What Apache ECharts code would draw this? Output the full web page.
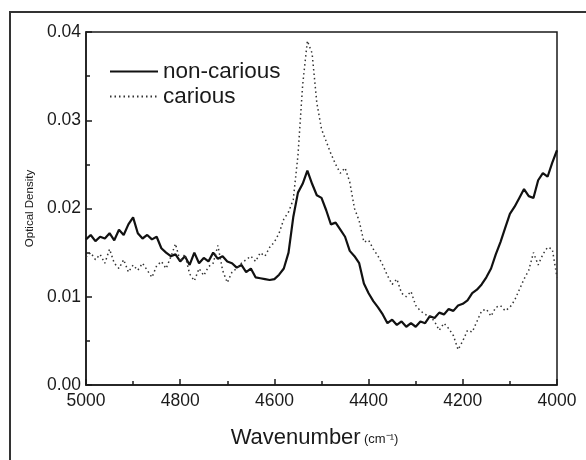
<!DOCTYPE html>
<html>
<head>
<meta charset="utf-8">
<script src="https://cdn.jsdelivr.net/npm/echarts@6/dist/echarts.min.js"></script>
<style>
  html, body { margin: 0; padding: 0; background: #fff; }
  #main { width: 586px; height: 460px; }
</style>
</head>
<body>
<div id="main"></div>
<script>
// wavenumber (cm-1), every 10 cm-1
var wavenumber = [
  5000, 4990, 4980, 4970, 4960, 4950, 4940, 4930, 4920, 4910,
  4900, 4890, 4880, 4870, 4860, 4850, 4840, 4830, 4820, 4810,
  4800, 4790, 4780, 4770, 4760, 4750, 4740, 4730, 4720, 4710,
  4700, 4690, 4680, 4670, 4660, 4650, 4640, 4630, 4620, 4610,
  4600, 4590, 4580, 4570, 4560, 4550, 4540, 4530, 4520, 4510,
  4500, 4490, 4480, 4470, 4460, 4450, 4440, 4430, 4420, 4410,
  4400, 4390, 4380, 4370, 4360, 4350, 4340, 4330, 4320, 4310,
  4300, 4290, 4280, 4270, 4260, 4250, 4240, 4230, 4220, 4210,
  4200, 4190, 4180, 4170, 4160, 4150, 4140, 4130, 4120, 4110,
  4100, 4090, 4080, 4070, 4060, 4050, 4040, 4030, 4020, 4010,
  4000
];

var nonCarious = [
  0.0165, 0.0170, 0.0163, 0.0168, 0.0166, 0.0172, 0.0164, 0.0176, 0.0170, 0.0182,
  0.0190, 0.0172, 0.0166, 0.0170, 0.0165, 0.0168, 0.0155, 0.0150, 0.0146, 0.0148,
  0.0140, 0.0146, 0.0136, 0.0150, 0.0138, 0.0144, 0.0140, 0.0150, 0.0143, 0.0146,
  0.0140, 0.0138, 0.0133, 0.0136, 0.0128, 0.0132, 0.0122, 0.0121, 0.0120, 0.0119,
  0.0120, 0.0125, 0.0132, 0.0150, 0.0190, 0.0218, 0.0228, 0.0243, 0.0228, 0.0215,
  0.0212, 0.0198, 0.0182, 0.0184, 0.0176, 0.0168, 0.0152, 0.0146, 0.0138, 0.0115,
  0.0104, 0.0095, 0.0088, 0.0080, 0.0070, 0.0074, 0.0068, 0.0072, 0.0066, 0.0070,
  0.0066, 0.0072, 0.0070, 0.0078, 0.0076, 0.0082, 0.0080, 0.0086, 0.0084, 0.0090,
  0.0092, 0.0096, 0.0104, 0.0108, 0.0114, 0.0122, 0.0132, 0.0148, 0.0162, 0.0178,
  0.0194, 0.0202, 0.0212, 0.0222, 0.0214, 0.0212, 0.0232, 0.0240, 0.0236, 0.0252,
  0.0266
];

var carious = [
  0.0145, 0.0150, 0.0142, 0.0148, 0.0138, 0.0154, 0.0138, 0.0132, 0.0142, 0.0128,
  0.0136, 0.0130, 0.0138, 0.0130, 0.0122, 0.0135, 0.0140, 0.0132, 0.0145, 0.0160,
  0.0140, 0.0148, 0.0126, 0.0118, 0.0132, 0.0124, 0.0134, 0.0138, 0.0158, 0.0130,
  0.0116, 0.0128, 0.0132, 0.0138, 0.0142, 0.0146, 0.0140, 0.0150, 0.0146, 0.0156,
  0.0162, 0.0172, 0.0188, 0.0196, 0.0210, 0.0260, 0.0340, 0.0390, 0.0376, 0.0320,
  0.0290, 0.0276, 0.0262, 0.0250, 0.0240, 0.0246, 0.0230, 0.0200, 0.0186, 0.0162,
  0.0164, 0.0154, 0.0146, 0.0136, 0.0124, 0.0114, 0.0120, 0.0104, 0.0100, 0.0106,
  0.0090, 0.0084, 0.0080, 0.0078, 0.0072, 0.0062, 0.0070, 0.0064, 0.0056, 0.0040,
  0.0050, 0.0062, 0.0060, 0.0072, 0.0084, 0.0086, 0.0078, 0.0088, 0.0090, 0.0084,
  0.0088, 0.0096, 0.0108, 0.0120, 0.0130, 0.0150, 0.0136, 0.0148, 0.0156, 0.0154,
  0.0122
];

function pairs(ys) {
  var out = [];
  for (var i = 0; i < wavenumber.length; i++) {
    out.push([wavenumber[i], ys[i]]);
  }
  return out;
}

var dom = document.getElementById("main");
var myChart = echarts.init(dom, null, { renderer: "canvas" });

var font = "Liberation Sans, Arial, sans-serif";
var ink = "#1a1a1a";

option = {
  backgroundColor: "#fff",
  animation: false,
  textStyle: { fontFamily: font },
  grid: {
    left: 86,
    right: 29,
    top: 32,
    bottom: 75,
    show: true,
    borderColor: ink,
    borderWidth: 1.5,
  },
  graphic: [
    // outer frame of the scanned figure
    {
      type: "polyline",
      shape: { points: [[10, 460], [10, 12], [586, 12]] },
      style: { stroke: "#333", lineWidth: 2, fill: null },
    },
  ],
  legend: {
    orient: "vertical",
    left: 104,
    top: 55,
    itemWidth: 48,
    itemHeight: 14,
    itemGap: 2,
    itemStyle: { opacity: 0 },
    textStyle: { fontSize: 22.5, color: ink, fontFamily: font },
    data: ["non-carious", "carious"],
  },
  xAxis: {
    type: "value",
    inverse: true,
    min: 4000,
    max: 5000,
    interval: 200,
    name: "{a|Wavenumber} {b|(cm\u207B\u00B9)}",
    nameLocation: "middle",
    nameGap: 42,
    nameTextStyle: {
      padding: [0, 14, 0, 0],
      rich: {
        a: { fontSize: 22, color: ink, fontFamily: font },
        b: { fontSize: 13, color: ink, fontFamily: font, padding: [3, 0, 0, 0] },
      },
    },
    axisLine: { lineStyle: { color: ink, width: 1.5 } },
    axisTick: { inside: true, length: 6, lineStyle: { color: ink, width: 1.5 } },
    minorTick: { show: true, splitNumber: 2, length: 4, lineStyle: { color: ink, width: 1.5 } },
    axisLabel: {
      fontSize: 17.5,
      color: ink,
      margin: 7,
      formatter: function (v) { return String(v); },
    },
    splitLine: { show: false },
  },
  yAxis: {
    type: "value",
    min: 0,
    max: 0.04,
    interval: 0.01,
    name: "Optical Density",
    nameLocation: "middle",
    nameGap: 49,
    nameTextStyle: { fontSize: 11.5, color: ink },
    axisLine: { lineStyle: { color: ink, width: 1.5 } },
    axisTick: { inside: true, length: 6, lineStyle: { color: ink, width: 1.5 } },
    minorTick: { show: true, splitNumber: 2, length: 4, lineStyle: { color: ink, width: 1.5 } },
    axisLabel: {
      fontSize: 17.5,
      color: ink,
      margin: 5,
      formatter: function (v) { return v.toFixed(2); },
    },
    splitLine: { show: false },
  },
  series: [
    {
      name: "non-carious",
      type: "line",
      data: pairs(nonCarious),
      showSymbol: false,
      symbol: "none",
      lineStyle: { color: "#111", width: 2.2 },
      itemStyle: { color: "#111" },
    },
    {
      name: "carious",
      type: "line",
      data: pairs(carious),
      showSymbol: false,
      symbol: "none",
      lineStyle: { color: "#333", width: 1.5, type: [1.5, 3] },
      itemStyle: { color: "#333" },
    },
  ],
};

myChart.setOption(option);
</script>
</body>
</html>
